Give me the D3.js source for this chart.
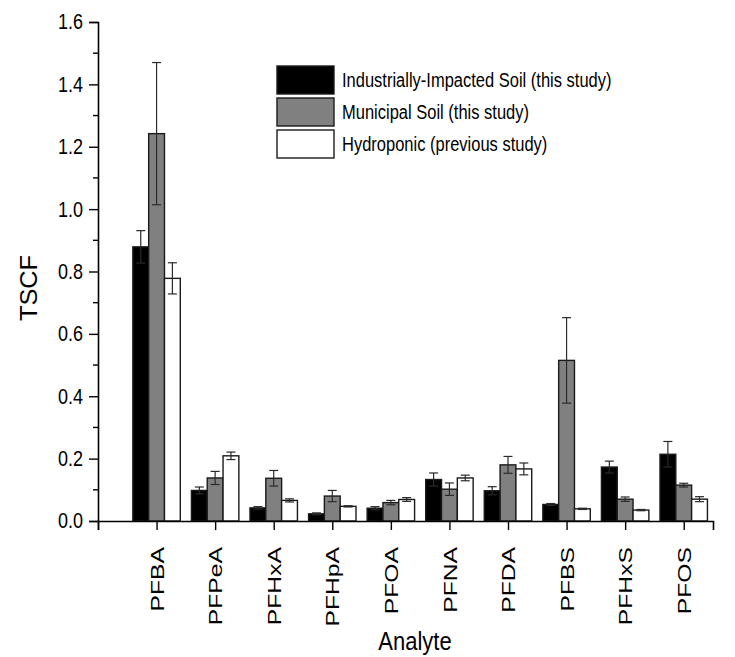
<!DOCTYPE html>
<meta charset="utf-8" />
<html>
<head>
<script src="https://d3js.org/d3.v7.min.js"></script>
<style>
  body { margin: 0; background: #fff; }
  text { font-family: "Liberation Sans", Arial, sans-serif; }
</style>
</head>
<body>
<script type="text/javascript">
// data
var analytes = ['PFBA', 'PFPeA', 'PFHxA', 'PFHpA', 'PFOA', 'PFNA', 'PFDA', 'PFBS', 'PFHxS', 'PFOS'];
var seriesNames = ['Industrially-Impacted Soil (this study)', 'Municipal Soil (this study)', 'Hydroponic (previous study)'];
var industrial    = [0.879, 0.098, 0.042, 0.023, 0.041, 0.133, 0.097, 0.053, 0.173, 0.214];
var industrialErr = [0.052, 0.011, 0.004, 0.003, 0.005, 0.021, 0.013, 0.003, 0.019, 0.041];
var municipal     = [1.242, 0.138, 0.137, 0.080, 0.059, 0.102, 0.180, 0.515, 0.070, 0.115];
var municipalErr  = [0.228, 0.021, 0.025, 0.018, 0.007, 0.020, 0.027, 0.137, 0.007, 0.006];
var hydroponic    = [0.778, 0.209, 0.066, 0.047, 0.069, 0.138, 0.167, 0.039, 0.035, 0.070];
var hydroponicErr = [0.050, 0.012, 0.005, 0.002, 0.006, 0.009, 0.019, 0.002, 0.002, 0.008];
var yTicks = [0.0, 0.2, 0.4, 0.6, 0.8, 1.0, 1.2, 1.4, 1.6];

var series = [
  {name: seriesNames[0], vals: industrial, errs: industrialErr, fill: '#000000'},
  {name: seriesNames[1], vals: municipal,  errs: municipalErr,  fill: '#808080'},
  {name: seriesNames[2], vals: hydroponic, errs: hydroponicErr, fill: '#ffffff'}
];

var W = 735, H = 657;
var plotLeft = 98, plotRight = 713, plotTop = 22, plotBottom = 521;
// the source figure is stretched vertically, so text gets stretched too
var stretch = 1.2;

var svg = d3.select('body').append('svg')
    .attr('width', W)
    .attr('height', H);

// x axis runs 0..10.5 in category units, analyte i sits at i+1
var x = d3.scaleLinear().domain([0, 10.5]).range([plotLeft, plotRight]);
var y = d3.scaleLinear().domain([0, 1.6]).range([plotBottom, plotTop]);
var barW = x(0.27) - x(0);

var g = svg.append('g');

series.forEach(function(s, si) {
  var off = (si - 1) * barW;
  g.append('g').selectAll('rect')
      .data(s.vals)
      .enter()
      .append('rect')
      .attr('x', function(d, i) { return x(i + 1) + off - barW / 2; })
      .attr('y', function(d) { return y(d); })
      .attr('width', barW)
      .attr('height', function(d) { return y(0) - y(d); })
      .attr('fill', s.fill)
      .attr('stroke', '#1a1a1a')
      .attr('stroke-width', 1.4);

  // error bars
  var eb = g.append('g')
      .attr('stroke', '#2a2a2a')
      .attr('stroke-width', 1.2);
  s.vals.forEach(function(v, i) {
    var cx = x(i + 1) + off;
    var e = s.errs[i];
    eb.append('line')
        .attr('x1', cx).attr('x2', cx)
        .attr('y1', y(v + e)).attr('y2', y(v - e));
    [v + e, v - e].forEach(function(t) {
      eb.append('line')
          .attr('x1', cx - 4.5).attr('x2', cx + 4.5)
          .attr('y1', y(t)).attr('y2', y(t));
    });
  });
});

// y axis
var yAxis = d3.axisLeft(y)
    .tickValues(yTicks)
    .tickFormat(d3.format('.1f'))
    .tickSize(9)
    .tickPadding(3);
var ya = svg.append('g')
    .attr('transform', 'translate(' + plotLeft + ',0)')
    .call(yAxis);
ya.select('.domain').attr('stroke', '#000').attr('stroke-width', 1.6);
ya.selectAll('.tick line').attr('stroke', '#000').attr('stroke-width', 1.4);
ya.selectAll('text')
    .attr('font-size', 18)
    .attr('fill', '#000')
    .attr('font-family', '"Liberation Sans", Arial, sans-serif')
    .attr('x', null)
    .attr('transform', 'translate(-15,0) scale(1,' + stretch + ')');

// minor y ticks
var minor = d3.range(0.1, 1.6, 0.2);
svg.append('g').selectAll('line')
    .data(minor)
    .enter()
    .append('line')
    .attr('x1', plotLeft - 5).attr('x2', plotLeft)
    .attr('y1', function(d) { return y(d); })
    .attr('y2', function(d) { return y(d); })
    .attr('stroke', '#000')
    .attr('stroke-width', 1.4);

// x axis
var xAxis = d3.axisBottom(x)
    .tickValues(d3.range(0, 11))
    .tickFormat(function(d) { return d >= 1 ? analytes[d - 1] : ''; })
    .tickSizeOuter(0)
    .tickSize(9);
var xa = svg.append('g')
    .attr('transform', 'translate(0,' + plotBottom + ')')
    .call(xAxis);
xa.select('.domain').attr('stroke', '#000').attr('stroke-width', 1.6);
xa.selectAll('.tick line').attr('stroke', '#000').attr('stroke-width', 1.4);
xa.selectAll('text')
    .attr('font-size', 19)
    .attr('fill', '#000')
    .attr('font-family', '"Liberation Sans", Arial, sans-serif')
    .attr('transform', 'rotate(-90) scale(1.3,1)')
    .attr('text-anchor', 'end')
    .attr('x', -20)
    .attr('y', 0)
    .attr('dy', '0.35em');

// axis titles
svg.append('text')
    .attr('transform', 'translate(37,288) rotate(-90) scale(1.1,1)')
    .attr('text-anchor', 'middle')
    .attr('font-size', 23)
    .text('TSCF');

svg.append('text')
    .attr('transform', 'translate(415,650) scale(1,' + stretch + ')')
    .attr('text-anchor', 'middle')
    .attr('font-size', 22)
    .text('Analyte');

// legend
var legend = svg.append('g')
    .attr('transform', 'translate(277,66)');
legend.selectAll('rect')
    .data(series)
    .enter()
    .append('rect')
    .attr('x', 0)
    .attr('y', function(d, i) { return i * 32; })
    .attr('width', 57)
    .attr('height', 28)
    .attr('fill', function(d) { return d.fill; })
    .attr('stroke', '#1a1a1a')
    .attr('stroke-width', 1.4);
legend.selectAll('text')
    .data(series)
    .enter()
    .append('text')
    .attr('transform', function(d, i) { return 'translate(65,' + (i * 32 + 14) + ') scale(1,' + stretch + ')'; })
    .attr('dy', '0.35em')
    .attr('font-size', 16.5)
    .text(function(d) { return d.name; });
</script>
</body>
</html>
